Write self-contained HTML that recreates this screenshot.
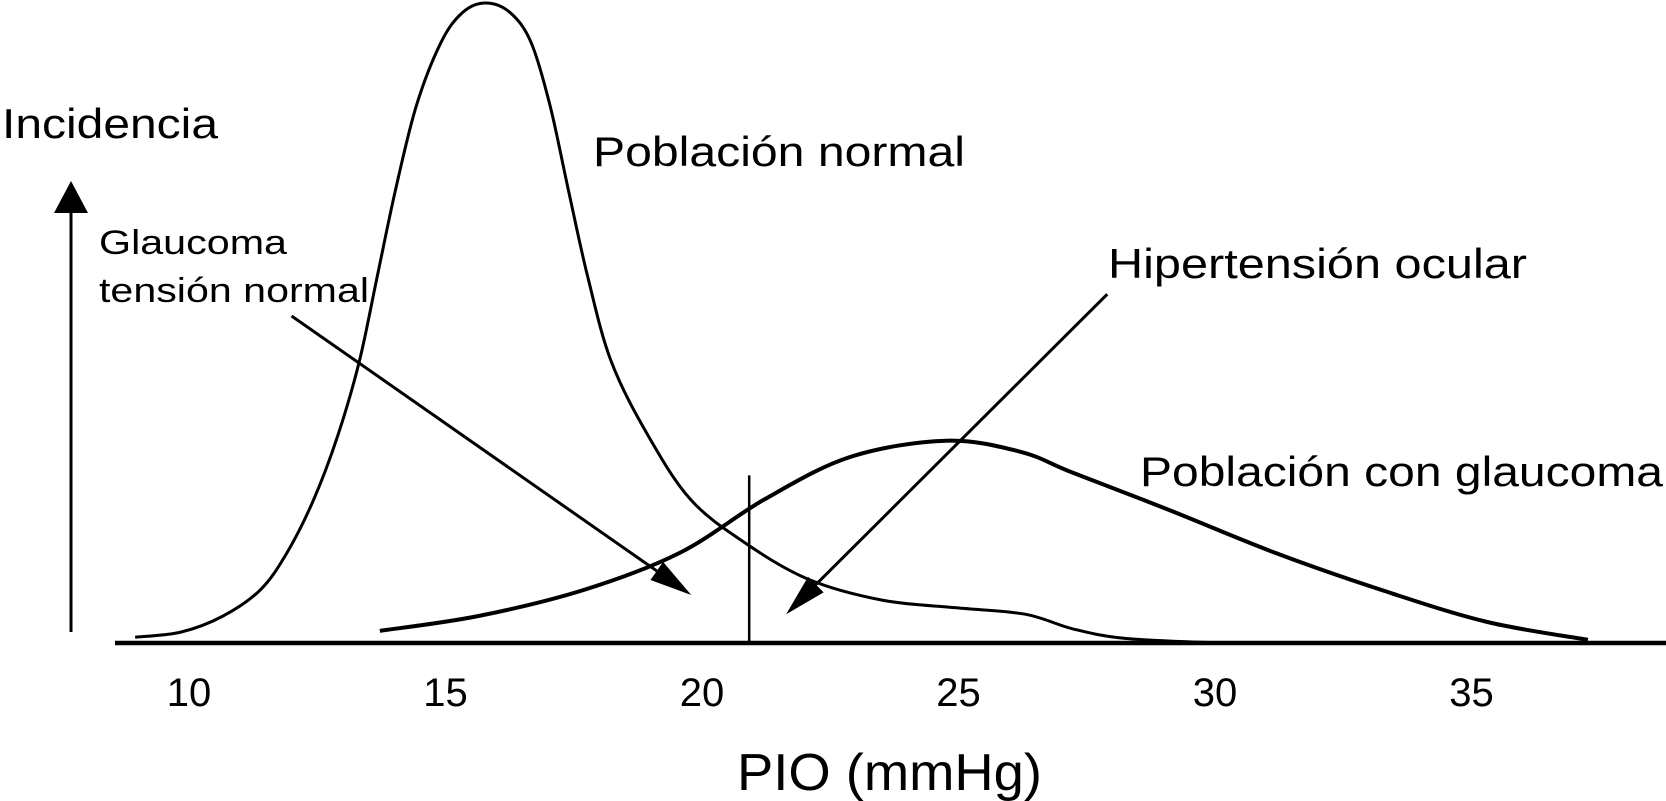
<!DOCTYPE html>
<html><head><meta charset="utf-8">
<style>
html,body{margin:0;padding:0;background:#fff;}
svg{display:block;font-family:"Liberation Sans",sans-serif;}
</style></head>
<body>
<svg id="chart" width="1666" height="801" viewBox="0 0 1666 801" xmlns="http://www.w3.org/2000/svg">
<text x="2" y="138" font-size="42" textLength="216" lengthAdjust="spacingAndGlyphs">Incidencia</text>
<text x="593" y="166" font-size="42" textLength="372" lengthAdjust="spacingAndGlyphs">Población normal</text>
<text x="99" y="254" font-size="34" textLength="188" lengthAdjust="spacingAndGlyphs">Glaucoma</text>
<text x="99" y="302" font-size="34" textLength="270" lengthAdjust="spacingAndGlyphs">tensión normal</text>
<text x="1108" y="278" font-size="42" textLength="419" lengthAdjust="spacingAndGlyphs">Hipertensión ocular</text>
<text x="1140" y="486" font-size="42" textLength="523" lengthAdjust="spacingAndGlyphs">Población con glaucoma</text>
<text x="737" y="790" font-size="52" textLength="305" lengthAdjust="spacingAndGlyphs">PIO (mmHg)</text>
<g id="plot"></g>
</svg>
<script>
const tickValues = [10, 15, 20, 25, 30, 35];
const tickLabels = ["10", "15", "20", "25", "30", "35"];
const normalX = [8.95,9.84,10.66,11.39,11.91,12.43,12.9,13.32,13.67,14.02,14.43,14.91,15.33,15.78,16.26,16.67,17.04,17.4,17.77,18.23,18.95,19.78,20.81,22.06,23.51,24.96,26.3,27.23,28.27,30.13];
const normalY = [0.9,1.7,4.2,8.3,14.1,22.4,32.4,44,57.3,70.6,83.9,93.8,98.5,100,98.5,93.8,83.9,70.6,57.3,44,32.4,22.4,15.8,10,6.7,5.5,4.5,2.2,0.7,0];
const glaucomaX = [13.72,15.63,17.7,19.57,21.23,22.9,24.76,26.2,27.23,29.1,31.17,33.24,35.3,37.27];
const glaucomaY = [1.9,4.2,8.3,14.1,22.5,29.1,31.6,29.9,26.6,20.8,14.1,8.3,3.3,0.5];
const cutoffValue = 20.92;
const cutoffTop = 26.2;
const arrowTNG = [[12.0, 51.1], [19.79, 7.5]];
const arrowHTO = [[27.9, 54.5], [21.64, 4.5]];

const NS = "http://www.w3.org/2000/svg";
const plot = document.getElementById("plot");
function sx(v){ return 189 + (v - 10) * 51.3; }
function sy(v){ return 643 - v * 6.4; }
function mk(tag, attrs){ const e = document.createElementNS(NS, tag); for (const k in attrs) e.setAttribute(k, attrs[k]); plot.appendChild(e); return e; }
function smooth(xs, ys){
  const p = xs.map((x,i)=>[sx(x), sy(ys[i])]);
  let d = "M" + p[0][0] + "," + p[0][1];
  for (let i=0;i<p.length-1;i++){
    const p0=p[Math.max(i-1,0)], p1=p[i], p2=p[i+1], p3=p[Math.min(i+2,p.length-1)];
    const c1=[p1[0]+(p2[0]-p0[0])/6, p1[1]+(p2[1]-p0[1])/6];
    const c2=[p2[0]-(p3[0]-p1[0])/6, p2[1]-(p3[1]-p1[1])/6];
    d += " C"+c1[0]+","+c1[1]+" "+c2[0]+","+c2[1]+" "+p2[0]+","+p2[1];
  }
  return d;
}
function arrow(a, name){
  const x1=sx(a[0][0]), y1=sy(a[0][1]), x2=sx(a[1][0]), y2=sy(a[1][1]);
  const ang=Math.atan2(y2-y1,x2-x1), L=42, W=11;
  const bx=x2-L*Math.cos(ang), by=y2-L*Math.sin(ang);
  const ln = mk("line",{x1:x1,y1:y1,x2:bx,y2:by,stroke:"#000","stroke-width":3});
  
  
  const hd = mk("polygon",{points:x2+","+y2+" "+(bx+W*Math.sin(ang))+","+(by-W*Math.cos(ang))+" "+(bx-W*Math.sin(ang))+","+(by+W*Math.cos(ang)),fill:"#000"});
  
  
}

const ya = mk("line",{x1:71,y1:632,x2:71,y2:210,stroke:"#000","stroke-width":3});


const yh = mk("polygon",{points:"71,181 54,213 88,213",fill:"#000"});



const xa = mk("line",{x1:115,y1:643,x2:1666,y2:643,stroke:"#000","stroke-width":4.5});


tickValues.forEach((v,i)=>{
  const t = mk("text",{x:sx(v),y:706,"font-size":40,"text-anchor":"middle"});
  t.textContent = tickLabels[i];
  
  
});

const c1 = mk("path",{d:smooth(normalX,normalY),fill:"none",stroke:"#000","stroke-width":3});


const c2 = mk("path",{d:smooth(glaucomaX,glaucomaY),fill:"none",stroke:"#000","stroke-width":4});



const cl = mk("line",{x1:sx(cutoffValue),y1:sy(cutoffTop),x2:sx(cutoffValue),y2:643,stroke:"#000","stroke-width":2.5});



arrow(arrowTNG, 'arrow-normal-tension-glaucoma');
arrow(arrowHTO, 'arrow-ocular-hypertension');
</script>
</body></html>
